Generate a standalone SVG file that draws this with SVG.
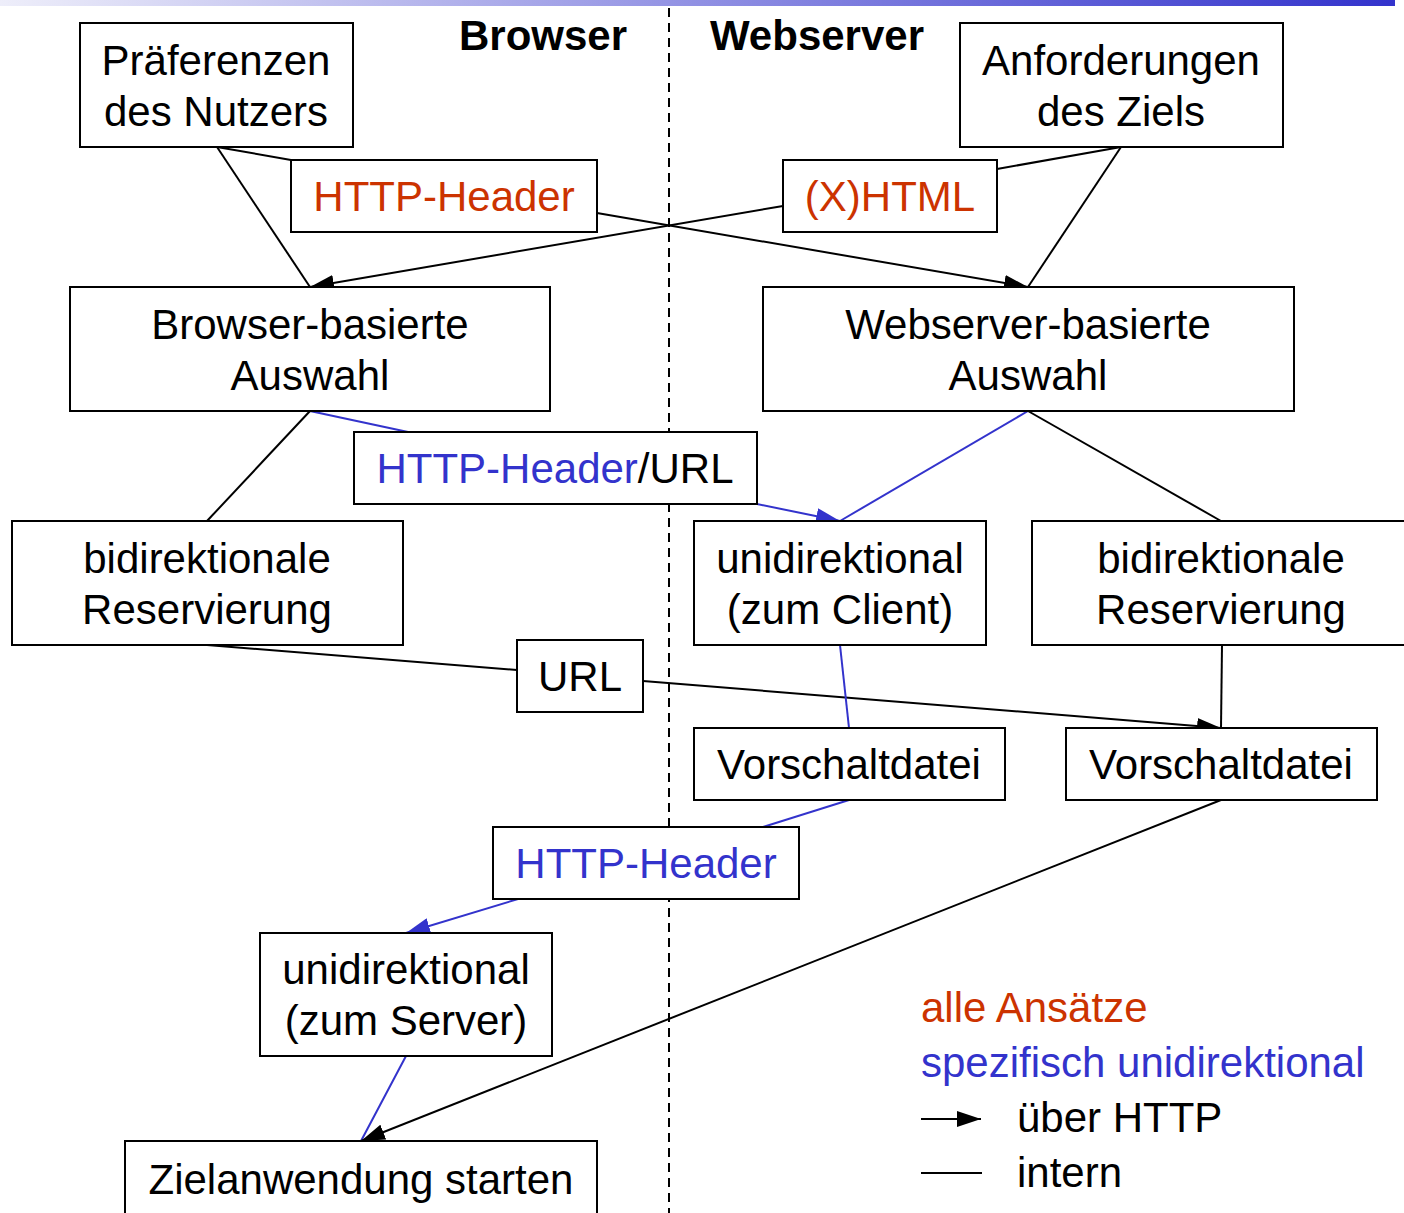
<svg xmlns="http://www.w3.org/2000/svg" width="1404" height="1213" viewBox="0 0 1404 1213">
<defs>
<linearGradient id="bar" x1="0" y1="0" x2="1" y2="0">
<stop offset="0" stop-color="#eeeefa"/>
<stop offset="1" stop-color="#3333cc"/>
</linearGradient>
<marker id="ab" viewBox="0 0 24 16" refX="24" refY="8" markerWidth="24" markerHeight="16" markerUnits="userSpaceOnUse" orient="auto">
<path d="M0,0 L24,8 L0,16 Z" fill="#000"/>
</marker>
<marker id="au" viewBox="0 0 24 16" refX="24" refY="8" markerWidth="24" markerHeight="16" markerUnits="userSpaceOnUse" orient="auto">
<path d="M0,0 L24,8 L0,16 Z" fill="#3333cc"/>
</marker>
</defs>
<style>
text{font-family:"Liberation Sans",Arial,sans-serif;font-size:42px;fill:#000}
.c{text-anchor:middle}
.b{font-weight:bold}
.red{fill:#cc3300}
.blue{fill:#3333cc}
rect{fill:#fff;stroke:#000;stroke-width:2}
.k{stroke:#000;stroke-width:2;fill:none}
.u{stroke:#3333cc;stroke-width:2;fill:none}
</style>
<rect x="0" y="0" width="1395" height="6" style="fill:url(#bar);stroke:none"/>
<line x1="669" y1="8" x2="669" y2="1213" stroke="#000" stroke-width="2" stroke-dasharray="9,6"/>
<text x="543" y="50" class="c b">Browser</text>
<text x="817" y="50" class="c b">Webserver</text>

<g id="connectors">
<line class="k" x1="217" y1="147" x2="291" y2="160"/>
<line class="k" x1="597" y1="213" x2="1028" y2="287" marker-end="url(#ab)"/>
<line class="k" x1="217" y1="147" x2="310" y2="287"/>
<line class="k" x1="1121" y1="147" x2="997" y2="169"/>
<line class="k" x1="783" y1="206" x2="310" y2="287" marker-end="url(#ab)"/>
<line class="k" x1="1121" y1="147" x2="1028" y2="287"/>
<line class="u" x1="310" y1="411" x2="408" y2="432"/>
<line class="u" x1="757" y1="504" x2="840" y2="521" marker-end="url(#au)"/>
<line class="k" x1="310" y1="411" x2="207" y2="521"/>
<line class="u" x1="1028" y1="411" x2="840" y2="521"/>
<line class="k" x1="1028" y1="411" x2="1221" y2="521"/>
<line class="k" x1="207" y1="645" x2="517" y2="670"/>
<line class="k" x1="643" y1="681" x2="1221" y2="728" marker-end="url(#ab)"/>
<line class="k" x1="1222" y1="645" x2="1221" y2="728"/>
<line class="u" x1="840" y1="645" x2="849" y2="728"/>
<line class="u" x1="849" y1="800" x2="763" y2="827"/>
<line class="u" x1="518" y1="899" x2="406" y2="933" marker-end="url(#au)"/>
<line class="u" x1="406" y1="1056" x2="361" y2="1141"/>
<line class="k" x1="1221" y1="800" x2="361" y2="1141" marker-end="url(#ab)"/>
</g>

<g id="praeferenzen"><rect x="80" y="23" width="273" height="124"/><text x="216" y="75" class="c">Präferenzen</text><text x="216" y="126" class="c">des Nutzers</text></g>
<g id="anforderungen"><rect x="960" y="23" width="323" height="124"/><text x="1121" y="75" class="c">Anforderungen</text><text x="1121" y="126" class="c">des Ziels</text></g>
<g id="http-header-1"><rect x="291" y="160" width="306" height="72"/><text x="444" y="211" class="c red">HTTP-Header</text></g>
<g id="xhtml"><rect x="783" y="160" width="214" height="72"/><text x="890" y="211" class="c red">(X)HTML</text></g>
<g id="browser-auswahl"><rect x="70" y="287" width="480" height="124"/><text x="310" y="339" class="c">Browser-basierte</text><text x="310" y="390" class="c">Auswahl</text></g>
<g id="webserver-auswahl"><rect x="763" y="287" width="531" height="124"/><text x="1028" y="339" class="c">Webserver-basierte</text><text x="1028" y="390" class="c">Auswahl</text></g>
<g id="http-header-url"><rect x="354" y="432" width="403" height="72"/><text x="555" y="483" class="c"><tspan class="blue">HTTP-Header</tspan>/URL</text></g>
<g id="bidir-left"><rect x="12" y="521" width="391" height="124"/><text x="207" y="573" class="c">bidirektionale</text><text x="207" y="624" class="c">Reservierung</text></g>
<g id="unidir-client"><rect x="694" y="521" width="292" height="124"/><text x="840" y="573" class="c">unidirektional</text><text x="840" y="624" class="c">(zum Client)</text></g>
<g id="bidir-right"><rect x="1032" y="521" width="380" height="124"/><text x="1221" y="573" class="c">bidirektionale</text><text x="1221" y="624" class="c">Reservierung</text></g>
<g id="url"><rect x="517" y="640" width="126" height="72"/><text x="580" y="691" class="c">URL</text></g>
<g id="vorschalt-mid"><rect x="694" y="728" width="311" height="72"/><text x="849" y="779" class="c">Vorschaltdatei</text></g>
<g id="vorschalt-right"><rect x="1066" y="728" width="311" height="72"/><text x="1221" y="779" class="c">Vorschaltdatei</text></g>
<g id="http-header-2"><rect x="493" y="827" width="306" height="72"/><text x="646" y="878" class="c blue">HTTP-Header</text></g>
<g id="unidir-server"><rect x="260" y="933" width="292" height="123"/><text x="406" y="984" class="c">unidirektional</text><text x="406" y="1035" class="c">(zum Server)</text></g>
<g id="zielanwendung"><rect x="125" y="1141" width="472" height="80"/><text x="361" y="1194" class="c">Zielanwendung starten</text></g>

<g id="legend">
<text x="921" y="1022" class="red">alle Ansätze</text>
<text x="921" y="1077" class="blue">spezifisch unidirektional</text>
<line class="k" x1="921" y1="1119" x2="981" y2="1119" marker-end="url(#ab)"/>
<text x="1017" y="1132">über HTTP</text>
<line class="k" x1="921" y1="1173" x2="982" y2="1173"/>
<text x="1017" y="1187">intern</text>
</g>
</svg>
